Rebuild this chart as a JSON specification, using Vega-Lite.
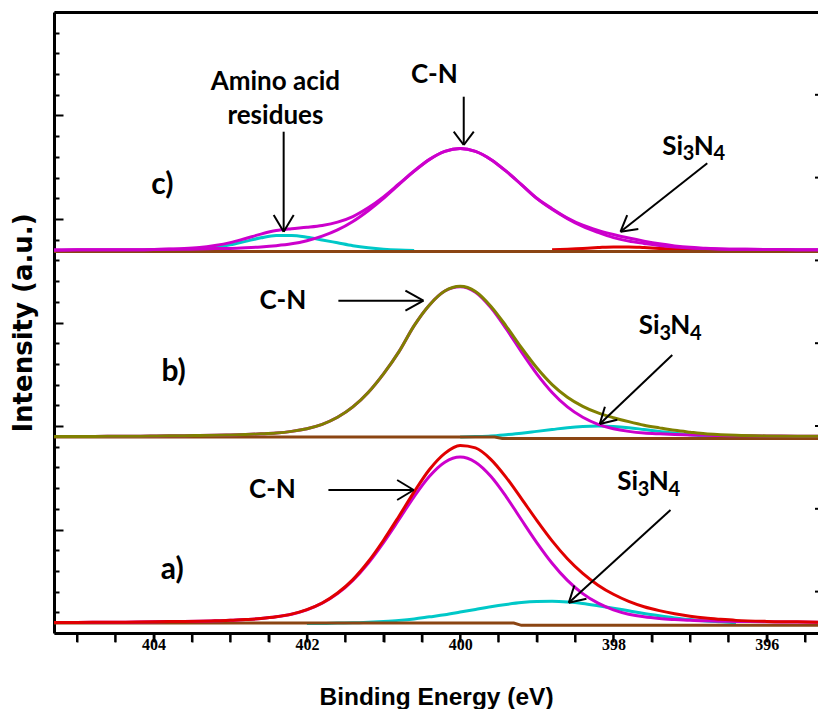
{
"$schema": "https://vega.github.io/schema/vega-lite/v6.json",
"width": 764, "height": 621,
"autosize": {"type": "none"},
"padding": {"left": 54, "top": 12, "right": 0, "bottom": 76},
"background": "white",
"config": {"view": {"stroke": null}, "axis": {"grid": false}},
"datasets": {
"curves": [
{"x":405.4,"at":0.50,"ac":0.50,"as":null,"bt":9.49,"bc":9.49,"bs":null,"ct":18.50,"cc":18.50,"ca":null,"cs":null},
{"x":405.0,"at":0.51,"ac":0.51,"as":null,"bt":9.49,"bc":9.49,"bs":null,"ct":18.51,"cc":18.51,"ca":null,"cs":null},
{"x":404.6,"at":0.52,"ac":0.52,"as":null,"bt":9.50,"bc":9.50,"bs":null,"ct":18.52,"cc":18.52,"ca":null,"cs":null},
{"x":404.2,"at":0.53,"ac":0.53,"as":null,"bt":9.51,"bc":9.51,"bs":null,"ct":18.52,"cc":18.52,"ca":null,"cs":null},
{"x":403.8,"at":0.55,"ac":0.55,"as":null,"bt":9.53,"bc":9.53,"bs":null,"ct":18.55,"cc":18.54,"ca":18.48,"cs":null},
{"x":403.6,"at":0.56,"ac":0.56,"as":null,"bt":9.53,"bc":9.53,"bs":null,"ct":18.57,"cc":18.54,"ca":18.50,"cs":null},
{"x":403.4,"at":0.57,"ac":0.57,"as":null,"bt":9.54,"bc":9.54,"bs":null,"ct":18.62,"cc":18.55,"ca":18.54,"cs":null},
{"x":403.2,"at":0.59,"ac":0.59,"as":null,"bt":9.55,"bc":9.55,"bs":null,"ct":18.72,"cc":18.57,"ca":18.62,"cs":null},
{"x":403.0,"at":0.61,"ac":0.61,"as":null,"bt":9.57,"bc":9.57,"bs":null,"ct":18.86,"cc":18.58,"ca":18.75,"cs":null},
{"x":402.8,"at":0.65,"ac":0.65,"as":null,"bt":9.59,"bc":9.59,"bs":null,"ct":19.06,"cc":18.61,"ca":18.92,"cs":null},
{"x":402.6,"at":0.70,"ac":0.70,"as":null,"bt":9.62,"bc":9.62,"bs":null,"ct":19.27,"cc":18.65,"ca":19.09,"cs":null},
{"x":402.4,"at":0.78,"ac":0.78,"as":null,"bt":9.66,"bc":9.66,"bs":null,"ct":19.44,"cc":18.71,"ca":19.20,"cs":null},
{"x":402.2,"at":0.91,"ac":0.91,"as":null,"bt":9.74,"bc":9.74,"bs":null,"ct":19.53,"cc":18.80,"ca":19.20,"cs":null},
{"x":402.0,"at":1.13,"ac":1.12,"as":0.46,"bt":9.87,"bc":9.87,"bs":null,"ct":19.60,"cc":18.95,"ca":19.12,"cs":null},
{"x":401.8,"at":1.45,"ac":1.44,"as":0.46,"bt":10.08,"bc":10.08,"bs":null,"ct":19.69,"cc":19.17,"ca":18.99,"cs":null},
{"x":401.6,"at":1.93,"ac":1.90,"as":0.48,"bt":10.42,"bc":10.42,"bs":null,"ct":19.85,"cc":19.47,"ca":18.85,"cs":null},
{"x":401.4,"at":2.58,"ac":2.54,"as":0.49,"bt":10.92,"bc":10.92,"bs":null,"ct":20.12,"cc":19.88,"ca":18.71,"cs":null},
{"x":401.2,"at":3.44,"ac":3.37,"as":0.52,"bt":11.62,"bc":11.62,"bs":null,"ct":20.54,"cc":20.40,"ca":18.61,"cs":null},
{"x":401.0,"at":4.48,"ac":4.37,"as":0.56,"bt":12.52,"bc":12.52,"bs":null,"ct":21.07,"cc":21.00,"ca":18.54,"cs":null},
{"x":400.8,"at":5.63,"ac":5.47,"as":0.61,"bt":13.58,"bc":13.58,"bs":null,"ct":21.69,"cc":21.66,"ca":18.50,"cs":null},
{"x":400.6,"at":6.82,"ac":6.59,"as":0.68,"bt":14.85,"bc":14.85,"bs":null,"ct":22.32,"cc":22.31,"ca":18.48,"cs":null},
{"x":400.4,"at":7.90,"ac":7.57,"as":0.78,"bt":15.85,"bc":15.85,"bs":null,"ct":22.88,"cc":22.88,"ca":null,"cs":null},
{"x":400.2,"at":8.68,"ac":8.25,"as":0.88,"bt":16.52,"bc":16.52,"bs":null,"ct":23.27,"cc":23.27,"ca":null,"cs":null},
{"x":400.0,"at":9.06,"ac":8.50,"as":1.01,"bt":16.75,"bc":16.73,"bs":9.47,"ct":23.41,"cc":23.41,"ca":null,"cs":null},
{"x":399.8,"at":8.94,"ac":8.25,"as":1.14,"bt":16.50,"bc":16.46,"bs":9.49,"ct":23.27,"cc":23.27,"ca":null,"cs":null},
{"x":399.6,"at":8.39,"ac":7.57,"as":1.27,"bt":15.79,"bc":15.72,"bs":9.52,"ct":22.88,"cc":22.88,"ca":null,"cs":null},
{"x":399.4,"at":7.52,"ac":6.59,"as":1.38,"bt":14.83,"bc":14.70,"bs":9.58,"ct":22.31,"cc":22.31,"ca":null,"cs":null},
{"x":399.2,"at":6.49,"ac":5.47,"as":1.47,"bt":13.78,"bc":13.58,"bs":9.65,"ct":21.66,"cc":21.66,"ca":null,"cs":null},
{"x":399.0,"at":5.44,"ac":4.37,"as":1.52,"bt":12.81,"bc":12.52,"bs":9.74,"ct":21.00,"cc":21.00,"ca":null,"cs":null},
{"x":398.8,"at":4.45,"ac":3.37,"as":1.53,"bt":12.00,"bc":11.62,"bs":9.83,"ct":20.50,"cc":20.47,"ca":null,"cs":18.51},
{"x":398.6,"at":3.59,"ac":2.54,"as":1.50,"bt":11.39,"bc":10.92,"bs":9.92,"ct":20.05,"cc":20.02,"ca":null,"cs":18.54},
{"x":398.4,"at":2.88,"ac":1.90,"as":1.43,"bt":10.95,"bc":10.42,"bs":9.98,"ct":19.70,"cc":19.64,"ca":null,"cs":18.58},
{"x":398.2,"at":2.31,"ac":1.44,"as":1.32,"bt":10.63,"bc":10.08,"bs":10.00,"ct":19.45,"cc":19.35,"ca":null,"cs":18.62},
{"x":398.0,"at":1.87,"ac":1.12,"as":1.20,"bt":10.40,"bc":9.87,"bs":9.98,"ct":19.25,"cc":19.10,"ca":null,"cs":18.65},
{"x":397.8,"at":1.53,"ac":0.91,"as":1.07,"bt":10.21,"bc":9.74,"bs":9.92,"ct":19.08,"cc":18.93,"ca":null,"cs":18.65},
{"x":397.6,"at":1.27,"ac":0.78,"as":0.94,"bt":10.04,"bc":9.66,"bs":9.83,"ct":18.93,"cc":18.82,"ca":null,"cs":18.62},
{"x":397.4,"at":1.08,"ac":0.70,"as":0.83,"bt":9.91,"bc":9.62,"bs":9.74,"ct":18.80,"cc":18.72,"ca":null,"cs":18.58},
{"x":397.2,"at":0.93,"ac":0.65,"as":0.73,"bt":9.79,"bc":9.59,"bs":9.65,"ct":18.70,"cc":18.65,"ca":null,"cs":18.54},
{"x":397.0,"at":0.81,"ac":0.61,"as":0.65,"bt":9.70,"bc":9.57,"bs":9.58,"ct":18.63,"cc":18.60,"ca":null,"cs":18.51},
{"x":396.8,"at":0.72,"ac":0.59,"as":0.58,"bt":9.62,"bc":9.55,"bs":9.52,"ct":18.59,"cc":18.57,"ca":null,"cs":18.49},
{"x":396.6,"at":0.66,"ac":0.57,"as":0.54,"bt":9.58,"bc":9.54,"bs":9.49,"ct":18.55,"cc":18.55,"ca":null,"cs":null},
{"x":396.4,"at":0.61,"ac":0.56,"as":0.50,"bt":9.55,"bc":9.53,"bs":9.47,"ct":18.54,"cc":18.54,"ca":null,"cs":null},
{"x":396.0,"at":0.56,"ac":0.54,"as":null,"bt":9.52,"bc":9.52,"bs":null,"ct":18.53,"cc":18.53,"ca":null,"cs":null},
{"x":395.6,"at":0.54,"ac":0.53,"as":null,"bt":9.51,"bc":9.51,"bs":null,"ct":18.52,"cc":18.52,"ca":null,"cs":null},
{"x":395.2,"at":0.51,"ac":0.51,"as":null,"bt":9.50,"bc":9.50,"bs":null,"ct":18.51,"cc":18.51,"ca":null,"cs":null}
],
"base": [
{"x":405.4,"y":0.48,"s":"a"},{"x":399.3,"y":0.48,"s":"a"},{"x":399.2,"y":0.37,"s":"a"},{"x":395.2,"y":0.37,"s":"a"},
{"x":405.4,"y":9.47,"s":"b"},{"x":399.55,"y":9.47,"s":"b"},{"x":399.45,"y":9.40,"s":"b"},{"x":395.2,"y":9.40,"s":"b"},
{"x":405.4,"y":18.43,"s":"c"},{"x":395.2,"y":18.43,"s":"c"}
],
"arrows": [
{"x":402.303,"y":24.217,"x2":402.303,"y2":19.386},
{"x":402.433,"y":20.193,"x2":402.303,"y2":19.386},
{"x":402.172,"y":20.193,"x2":402.303,"y2":19.386},
{"x":399.953,"y":25.908,"x2":399.953,"y2":23.575},
{"x":400.084,"y":24.217,"x2":399.953,"y2":23.575},
{"x":399.822,"y":24.217,"x2":399.953,"y2":23.575},
{"x":396.775,"y":22.691,"x2":397.907,"y2":19.386},
{"x":397.675,"y":19.512,"x2":397.907,"y2":19.386},
{"x":397.820,"y":20.193,"x2":397.907,"y2":19.386},
{"x":401.589,"y":16.053,"x2":400.479,"y2":16.053},
{"x":400.714,"y":16.536,"x2":400.479,"y2":16.053},
{"x":400.714,"y":15.570,"x2":400.479,"y2":16.053},
{"x":397.232,"y":13.430,"x2":398.178,"y2":10.097},
{"x":397.949,"y":10.300,"x2":398.178,"y2":10.097},
{"x":398.111,"y":10.932,"x2":398.178,"y2":10.097},
{"x":401.719,"y":6.908,"x2":400.606,"y2":6.908},
{"x":400.822,"y":7.391,"x2":400.606,"y2":6.908},
{"x":400.822,"y":6.425,"x2":400.606,"y2":6.908},
{"x":397.255,"y":5.942,"x2":398.582,"y2":1.464},
{"x":398.352,"y":1.652,"x2":398.582,"y2":1.464},
{"x":398.510,"y":2.295,"x2":398.582,"y2":1.464}
],
"labels": [
{"x":402.411,"y":26.618,"t":"Amino acid"},
{"x":402.411,"y":24.976,"t":"residues"},
{"x":400.336,"y":26.957,"t":"C-N"},
{"x":402.313,"y":16.039,"t":"C-N"},
{"x":402.45,"y":6.908,"t":"C-N"}
],
"formula": [
{"x":397.363,"y":23.092,"t":"Si"},{"x":396.952,"y":23.092,"t":"N"},
{"x":397.668,"y":14.444,"t":"Si"},{"x":397.257,"y":14.444,"t":"N"},
{"x":397.950,"y":6.908,"t":"Si"},{"x":397.539,"y":6.908,"t":"N"}
],
"subscripts": [
{"x":397.094,"y":22.850,"t":"3"},{"x":396.693,"y":22.850,"t":"4"},
{"x":397.399,"y":14.155,"t":"3"},{"x":396.999,"y":14.155,"t":"4"},
{"x":397.681,"y":6.618,"t":"3"},{"x":397.281,"y":6.618,"t":"4"}
],
"panels": [
{"x":403.886,"y":21.643,"t":"c)"},
{"x":403.739,"y":12.623,"t":"b)"},
{"x":403.756,"y":3.043,"t":"a)"}
],
"bottomticks": [
{"x":395.5,"y":0},{"x":396,"y":0},{"x":396.5,"y":0},{"x":397,"y":0},{"x":397.5,"y":0},{"x":398,"y":0},{"x":398.5,"y":0},{"x":399,"y":0},{"x":399.5,"y":0},{"x":400,"y":0},
{"x":400.5,"y":0},{"x":401,"y":0},{"x":401.5,"y":0},{"x":402,"y":0},{"x":402.5,"y":0},{"x":403,"y":0},{"x":403.5,"y":0},{"x":404,"y":0},{"x":404.5,"y":0},{"x":405,"y":0}
],
"rightticks": [
{"x":395.33,"y":2},{"x":395.33,"y":6},{"x":395.33,"y":10},{"x":395.33,"y":14},{"x":395.33,"y":18},{"x":395.33,"y":22},{"x":395.33,"y":26}
]
},
"layer": [
{
"data": {"name": "curves"},
"transform": [
{"fold": ["at","ac","as","bt","bc","bs","ct","cc","ca","cs"], "as": ["s","v"]},
{"filter": {"field": "s", "oneOf": ["as","bs","ca"]}},
{"filter": "isValid(datum.v)"}
],
"mark": {"type": "line", "color": "#00c8c8", "strokeWidth": 3, "interpolate": "monotone", "clip": true},
"encoding": {
"x": {"field": "x", "type": "quantitative", "scale": {"domain": [395.33, 405.3], "reverse": true, "nice": false, "zero": false},
"axis": {"orient": "bottom", "values": [395.5,396,396.5,397,397.5,398,398.5,399,399.5,400,400.5,401,401.5,402,402.5,403,403.5,404,404.5,405],
"format": ".0f", "labelExpr": "datum.value % 2 === 0 ? datum.label : ''",
"ticks": true, "tickSize": 9, "tickWidth": 2, "tickColor": "black", "domainColor": "black", "domainWidth": 3,
"labelFont": "Liberation Serif", "labelFontWeight": "bold", "labelFontSize": 16, "labelColor": "black", "labelPadding": -6,
"labelFlush": false, "labelOverlap": false,
"title": "Binding Energy (eV)", "titleFont": "Liberation Sans", "titleFontSize": 24.5, "titleFontWeight": "bold", "titleColor": "black", "titlePadding": 33}},
"y": {"field": "v", "type": "quantitative", "scale": {"domain": [0, 30], "nice": false, "zero": false},
"axis": {"orient": "left", "values": [0,1,2,3,4,5,6,7,8,9,10,11,12,13,14,15,16,17,18,19,20,21,22,23,24,25,26,27,28,29,30],
"tickSize": {"condition": {"test": "datum.value % 5 === 0", "value": -9}, "value": -5},
"tickWidth": 2, "tickColor": "black", "domainColor": "black", "domainWidth": 3, "labels": false,
"title": "Intensity (a.u.)", "titleFont": "DejaVu Sans", "titleFontSize": 26, "titleFontWeight": "bold", "titleColor": "black", "titlePadding": 17}},
"detail": {"field": "s"}
}
},
{
"data": {"name": "curves"},
"transform": [
{"fold": ["cs"], "as": ["s","v"]},
{"filter": "isValid(datum.v)"}
],
"mark": {"type": "line", "color": "#e00000", "strokeWidth": 3, "interpolate": "monotone", "clip": true},
"encoding": {
"x": {"field": "x", "type": "quantitative", "scale": {"domain": [395.33, 405.3], "reverse": true, "nice": false, "zero": false},
"axis": {"orient": "top", "ticks": false, "labels": false, "title": null, "domainColor": "black", "domainWidth": 3}},
"y": {"field": "v", "type": "quantitative", "scale": {"domain": [0, 30], "nice": false, "zero": false}, "axis": null}
}
},
{
"data": {"name": "base"},
"mark": {"type": "line", "color": "#8b4513", "strokeWidth": 3, "clip": true},
"encoding": {
"x": {"field": "x", "type": "quantitative", "scale": {"domain": [395.33, 405.3], "reverse": true, "nice": false, "zero": false}, "axis": null},
"y": {"field": "y", "type": "quantitative", "scale": {"domain": [0, 30], "nice": false, "zero": false}, "axis": null},
"detail": {"field": "s"}
}
},
{
"data": {"name": "curves"},
"transform": [
{"fold": ["ac","bc","cc"], "as": ["s","v"]},
{"filter": "isValid(datum.v)"}
],
"mark": {"type": "line", "color": "#cc00cc", "strokeWidth": 3, "interpolate": "monotone", "clip": true},
"encoding": {
"x": {"field": "x", "type": "quantitative", "scale": {"domain": [395.33, 405.3], "reverse": true, "nice": false, "zero": false}, "axis": null},
"y": {"field": "v", "type": "quantitative", "scale": {"domain": [0, 30], "nice": false, "zero": false}, "axis": null},
"detail": {"field": "s"}
}
},
{
"data": {"name": "curves"},
"transform": [{"fold": ["at"], "as": ["s","v"]}],
"mark": {"type": "line", "color": "#e00000", "strokeWidth": 3, "interpolate": "monotone", "clip": true},
"encoding": {
"x": {"field": "x", "type": "quantitative", "scale": {"domain": [395.33, 405.3], "reverse": true, "nice": false, "zero": false}, "axis": null},
"y": {"field": "v", "type": "quantitative", "scale": {"domain": [0, 30], "nice": false, "zero": false}, "axis": null}
}
},
{
"data": {"name": "curves"},
"transform": [{"fold": ["bt"], "as": ["s","v"]}],
"mark": {"type": "line", "color": "#808000", "strokeWidth": 3, "interpolate": "monotone", "clip": true},
"encoding": {
"x": {"field": "x", "type": "quantitative", "scale": {"domain": [395.33, 405.3], "reverse": true, "nice": false, "zero": false}, "axis": null},
"y": {"field": "v", "type": "quantitative", "scale": {"domain": [0, 30], "nice": false, "zero": false}, "axis": null}
}
},
{
"data": {"name": "curves"},
"transform": [{"fold": ["ct"], "as": ["s","v"]}],
"mark": {"type": "line", "color": "#cc00cc", "strokeWidth": 3, "interpolate": "monotone", "clip": true},
"encoding": {
"x": {"field": "x", "type": "quantitative", "scale": {"domain": [395.33, 405.3], "reverse": true, "nice": false, "zero": false}, "axis": null},
"y": {"field": "v", "type": "quantitative", "scale": {"domain": [0, 30], "nice": false, "zero": false}, "axis": null}
}
},
{
"data": {"name": "arrows"},
"mark": {"type": "rule", "color": "black", "strokeWidth": 2},
"encoding": {
"x": {"field": "x", "type": "quantitative", "scale": {"domain": [395.33, 405.3], "reverse": true, "nice": false, "zero": false}, "axis": null},
"y": {"field": "y", "type": "quantitative", "scale": {"domain": [0, 30], "nice": false, "zero": false}, "axis": null},
"x2": {"field": "x2"},
"y2": {"field": "y2"}
}
},
{
"data": {"name": "bottomticks"},
"mark": {"type": "tick", "orient": "vertical", "size": 9, "thickness": 2, "yOffset": 4.5, "color": "black", "opacity": 1},
"encoding": {
"x": {"field": "x", "type": "quantitative", "scale": {"domain": [395.33, 405.3], "reverse": true, "nice": false, "zero": false}, "axis": null},
"y": {"field": "y", "type": "quantitative", "scale": {"domain": [0, 30], "nice": false, "zero": false}, "axis": null}
}
},
{
"data": {"name": "rightticks"},
"mark": {"type": "tick", "orient": "horizontal", "size": 6, "thickness": 2, "color": "black", "opacity": 1},
"encoding": {
"x": {"field": "x", "type": "quantitative", "scale": {"domain": [395.33, 405.3], "reverse": true, "nice": false, "zero": false}, "axis": null},
"y": {"field": "y", "type": "quantitative", "scale": {"domain": [0, 30], "nice": false, "zero": false}, "axis": null}
}
},
{
"data": {"name": "labels"},
"mark": {"type": "text", "font": "Lato", "fontWeight": "bold", "fontSize": 26, "color": "black", "align": "center", "baseline": "middle"},
"encoding": {
"x": {"field": "x", "type": "quantitative", "scale": {"domain": [395.33, 405.3], "reverse": true, "nice": false, "zero": false}, "axis": null},
"y": {"field": "y", "type": "quantitative", "scale": {"domain": [0, 30], "nice": false, "zero": false}, "axis": null},
"text": {"field": "t"}
}
},
{
"data": {"name": "formula"},
"mark": {"type": "text", "font": "Lato", "fontWeight": "bold", "fontSize": 26, "color": "black", "align": "left", "baseline": "alphabetic"},
"encoding": {
"x": {"field": "x", "type": "quantitative", "scale": {"domain": [395.33, 405.3], "reverse": true, "nice": false, "zero": false}, "axis": null},
"y": {"field": "y", "type": "quantitative", "scale": {"domain": [0, 30], "nice": false, "zero": false}, "axis": null},
"text": {"field": "t"}
}
},
{
"data": {"name": "subscripts"},
"mark": {"type": "text", "font": "Lato", "fontWeight": "bold", "fontSize": 20, "color": "black", "align": "left", "baseline": "alphabetic"},
"encoding": {
"x": {"field": "x", "type": "quantitative", "scale": {"domain": [395.33, 405.3], "reverse": true, "nice": false, "zero": false}, "axis": null},
"y": {"field": "y", "type": "quantitative", "scale": {"domain": [0, 30], "nice": false, "zero": false}, "axis": null},
"text": {"field": "t"}
}
},
{
"data": {"name": "panels"},
"mark": {"type": "text", "font": "Lato", "fontWeight": "bold", "fontSize": 30, "color": "black", "align": "center", "baseline": "middle"},
"encoding": {
"x": {"field": "x", "type": "quantitative", "scale": {"domain": [395.33, 405.3], "reverse": true, "nice": false, "zero": false}, "axis": null},
"y": {"field": "y", "type": "quantitative", "scale": {"domain": [0, 30], "nice": false, "zero": false}, "axis": null},
"text": {"field": "t"}
}
}
],
"resolve": {"axis": {"x": "independent", "y": "independent"}}
}
